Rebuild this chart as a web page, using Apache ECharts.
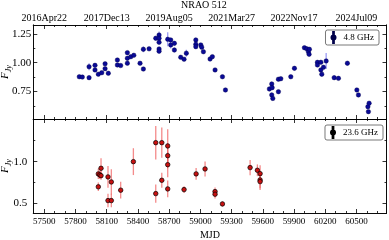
<!DOCTYPE html>
<html><head><meta charset="utf-8">
<script src="https://cdn.jsdelivr.net/npm/echarts@6/dist/echarts.min.js"></script>
<style>html,body{margin:0;padding:0;background:#fff}#c{width:389px;height:240px}</style>
</head><body><div id="c"></div>
<script>
// 4.8 GHz
const mjd48  = [57836,57865,57930,57930,57987,57987,58019,58052,58084,58084,58115,58202,58202,58234,58298,58298,58298,58331,58360,58420,58452,58452,58507,58571,58603,58603,58603,58603,58603,58686,58715,58715,58750,58750,58811,58843,58865,58956,58956,58956,59004,59013,59029,59093,59115,59141,59212,59241,59663,59686,59686,59690,59696,59750,59750,59773,59869,59904,60000,60023,60038,60045,60048,60125,60125,60158,60158,60167,60183,60209,60286,60327,60413,60504,60519,60610,60622,60615];
const flux48 = [0.878,0.875,0.965,0.870,0.977,0.937,0.900,0.913,0.990,0.948,0.908,1.023,0.980,0.975,1.087,1.038,0.995,1.052,1.064,0.995,1.116,0.945,1.120,1.212,1.240,1.212,1.177,1.119,1.100,1.203,1.197,1.154,1.168,1.110,1.047,1.030,1.082,1.197,1.160,1.139,1.154,1.134,1.095,1.032,1.052,0.937,0.878,0.763,0.772,0.815,0.720,0.783,0.690,0.748,0.856,0.861,0.878,0.951,1.130,1.120,1.095,1.073,1.116,1.003,0.980,1.003,0.937,0.900,0.960,1.015,0.870,0.864,0.995,0.763,0.720,0.618,0.648,0.575];
const err48  = [0.010,0.010,0.030,0.020,0.020,0.015,0.010,0.010,0.015,0.015,0.010,0.015,0.015,0.010,0.015,0.020,0.015,0.010,0.010,0.010,0.025,0.015,0.015,0.020,0.030,0.030,0.020,0.020,0.020,0.060,0.020,0.030,0.020,0.020,0.015,0.010,0.030,0.020,0.020,0.015,0.015,0.015,0.015,0.020,0.015,0.015,0.010,0.015,0.020,0.020,0.020,0.020,0.015,0.015,0.015,0.015,0.010,0.020,0.015,0.015,0.015,0.020,0.015,0.020,0.015,0.015,0.015,0.020,0.015,0.070,0.020,0.015,0.020,0.015,0.015,0.015,0.015,0.015];
// 23.6 GHz
const mjd236  = [58019,58019,58033,58045,58045,58112,58112,58144,58144,58234,58356,58571,58571,58629,58629,58686,58686,58686,58686,58843,58959,59045,59141,59141,59212,59478,59548,59574,59574,59574];
const flux236 = [0.854,0.700,0.842,0.921,0.833,0.818,0.536,0.758,0.536,0.660,1.000,1.226,0.619,1.226,0.778,1.187,1.071,0.964,0.675,0.667,0.854,0.913,0.643,0.612,0.496,0.929,0.897,0.857,0.782,0.762];
const err236  = [0.06,0.05,0.05,0.12,0.05,0.13,0.08,0.15,0.08,0.10,0.16,0.20,0.11,0.18,0.09,0.20,0.15,0.15,0.10,0.04,0.07,0.09,0.05,0.05,0.03,0.09,0.07,0.10,0.10,0.10];

const mjdTicks   = [57500,57800,58100,58400,58700,59000,59300,59600,59900,60200,60500];
const dateTicks  = [57500,58100,58700,59300,59900,60500];
const dateLabels = ['2016Apr22','2017Dec13','2019Aug05','2021Mar27','2022Nov17','2024Jul09'];
const yTicksTop  = [0.75,1.00,1.25];
const yLabelsTop = ['0.75','1.00','1.25'];
const yMinorTop  = [0.625,0.875,1.125];
const yTicksBot  = [0.5,1.0];
const yLabelsBot = ['0.5','1.0'];
const yMinorBot  = [0.75,1.25];

const FONT = 'Liberation Serif';
const xMin = 57394, xMax = 60789;
const yRangeTop = [0.511, 1.327];
const yRangeBot = [0.388, 1.508];

const minorX = [];
for (let v = 57500; v <= 60700; v += 100) minorX.push(v);
const minorXBottom = minorX.filter(v => mjdTicks.indexOf(v) < 0);
const minorXDate = minorX.filter(v => dateTicks.indexOf(v) < 0);

const lineStyle = {color:'#000', width:0.8};
function xAx(grid, pos, ticks, len, label) {
  return {type:'value', gridIndex:grid, position:pos, min:xMin, max:xMax,
    axisLine:{show:true, onZero:false, lineStyle},
    axisTick:{show:true, inside:true, length:len, customValues:ticks, lineStyle},
    axisLabel: label ? Object.assign({show:true, customValues:ticks, fontFamily:FONT, color:'#000'}, label) : {show:false},
    splitLine:{show:false}};
}
function yAx(grid, pos, range, ticks, len, label) {
  return {type:'value', gridIndex:grid, position:pos, min:range[0], max:range[1],
    axisLine:{show:true, onZero:false, lineStyle},
    axisTick:{show:true, inside:true, length:len, customValues:ticks, lineStyle},
    axisLabel: label ? Object.assign({show:true, customValues:ticks, fontFamily:FONT, color:'#000'}, label) : {show:false},
    splitLine:{show:false}};
}
const yName = {name:'{f|F}{s|Jy}', nameLocation:'middle', nameRotate:90, nameGap:20, nameMoveOverlap:false,
  nameTextStyle:{rich:{
    f:{fontFamily:FONT, fontStyle:'italic', fontSize:11, color:'#000', lineHeight:14, verticalAlign:'top'},
    s:{fontFamily:FONT, fontStyle:'italic', fontSize:8, color:'#000', lineHeight:14, verticalAlign:'bottom'}}}};

const xAxes = [
  xAx(0,'bottom',dateTicks,4,null),
  xAx(0,'bottom',minorXDate,2,null),
  xAx(0,'top',dateTicks,4,{fontSize:10, margin:2, formatter:v=>dateLabels[dateTicks.indexOf(v)]}),
  xAx(0,'top',minorXDate,2,null),
  Object.assign(xAx(1,'bottom',mjdTicks,4,{fontSize:9, margin:4, formatter:v=>String(v)}),
    {name:'MJD', nameLocation:'middle', nameGap:17, nameMoveOverlap:false, nameTextStyle:{fontFamily:FONT, fontSize:10, color:'#000'}}),
  xAx(1,'bottom',minorXBottom,2,null),
  xAx(1,'top',dateTicks,4,null),
  xAx(1,'top',minorXDate,2,null)
];
const yAxes = [
  Object.assign(yAx(0,'left',yRangeTop,yTicksTop,4,{fontSize:11, margin:2, formatter:v=>yLabelsTop[yTicksTop.indexOf(v)]}), yName),
  yAx(0,'left',yRangeTop,yMinorTop,2,null),
  yAx(0,'right',yRangeTop,yTicksTop,4,null),
  yAx(0,'right',yRangeTop,yMinorTop,2,null),
  Object.assign(yAx(1,'left',yRangeBot,yTicksBot,4,{fontSize:11, margin:6, formatter:v=>yLabelsBot[yTicksBot.indexOf(v)]}), yName),
  yAx(1,'left',yRangeBot,yMinorBot,2,null),
  yAx(1,'right',yRangeBot,yTicksBot,4,null),
  yAx(1,'right',yRangeBot,yMinorBot,2,null)
];

function errRender(color) {
  return function (params, api) {
    const x = api.value(0), y = api.value(1), e = api.value(2);
    const p1 = api.coord([x, y - e]), p2 = api.coord([x, y + e]);
    return {type:'line', shape:{x1:p1[0], y1:p1[1], x2:p2[0], y2:p2[1]},
      style:{stroke:color, lineWidth:1.3}};
  };
}
const icon = 'path://M2.6,0H3.4V12H2.6Z M0.8,6A2.2,2.2 0 1 1 5.2,6A2.2,2.2 0 1 1 0.8,6Z';

const chart = echarts.init(document.getElementById('c'), null, {renderer:'canvas'});
chart.setOption({
  animation:false,
  backgroundColor:'#fff',
  title:{text:'NRAO 512', left:181, top:0, padding:0,
    textStyle:{fontFamily:FONT, fontSize:10, fontWeight:'normal', color:'#000'}},
  grid:[
    {left:33.3, right:2.5, top:25, height:94, outerBoundsMode:'none', containLabel:false},
    {left:33.3, right:2.5, top:119, height:94, outerBoundsMode:'none', containLabel:false}
  ],
  xAxis:xAxes,
  yAxis:yAxes,
  legend:[
    {data:['4.8 GHz'], right:10, top:30, orient:'vertical', icon, itemWidth:6, itemHeight:11,
      borderColor:'#555', borderWidth:0.8, borderRadius:2, padding:[1,5,1,5], itemGap:0,
      textStyle:{fontFamily:FONT, fontSize:9, color:'#000', padding:[0,0,0,2]}},
    {data:['23.6 GHz'], right:6, top:125, orient:'vertical', icon, itemWidth:6, itemHeight:11,
      borderColor:'#555', borderWidth:0.8, borderRadius:2, padding:[1,5,1,5], itemGap:0,
      textStyle:{fontFamily:FONT, fontSize:9, color:'#000', padding:[0,0,0,2]}}
  ],
  series:[
    {type:'custom', name:'err48', xAxisIndex:0, yAxisIndex:0, z:1, silent:true,
      renderItem:errRender('rgba(90,90,235,0.6)'), encode:{x:0, y:1},
      data:mjd48.map((m,i)=>[m, flux48[i], err48[i]])},
    {type:'scatter', name:'4.8 GHz', xAxisIndex:0, yAxisIndex:0, z:2, symbol:'circle', symbolSize:4.5,
      itemStyle:{color:'#0a0a96', borderColor:'#00004a', borderWidth:0.4, opacity:1},
      data:mjd48.map((m,i)=>[m, flux48[i]])},
    {type:'custom', name:'err236', xAxisIndex:4, yAxisIndex:4, z:1, silent:true,
      renderItem:errRender('rgba(240,90,90,0.7)'), encode:{x:0, y:1},
      data:mjd236.map((m,i)=>[m, flux236[i], err236[i]])},
    {type:'scatter', name:'23.6 GHz', xAxisIndex:4, yAxisIndex:4, z:2, symbol:'circle', symbolSize:4.5,
      itemStyle:{color:'#c81010', borderColor:'#000', borderWidth:0.7, opacity:1},
      data:mjd236.map((m,i)=>[m, flux236[i]])}
  ]
});
</script>
</body></html>
